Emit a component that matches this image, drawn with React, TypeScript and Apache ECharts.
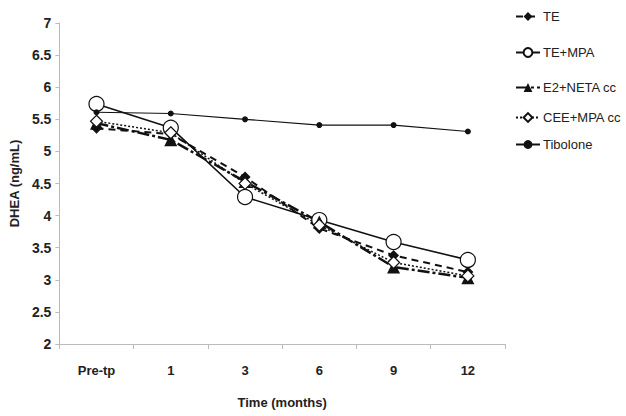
import React, { useEffect, useRef } from "react";
import * as echarts from "echarts";

const categories = ["Pre-tp", "1", "3", "6", "9", "12"];
const teValues = [5.36, 5.27, 4.6, 3.8, 3.38, 3.12];
const teMpaValues = [5.74, 5.37, 4.29, 3.93, 3.59, 3.31];
const e2NetaValues = [5.44, 5.18, 4.53, 3.9, 3.2, 3.03];
const ceeMpaValues = [5.47, 5.29, 4.5, 3.85, 3.27, 3.06];
const tiboloneValues = [5.61, 5.59, 5.5, 5.41, 5.41, 5.31];
const yTicks = { min: 2, max: 7, interval: 0.5 };

const FONT = "'Liberation Sans', Arial, sans-serif";

export default function App() {
  const ref = useRef<HTMLDivElement>(null);
  useEffect(() => {
    if (!ref.current) return;
    const chart = echarts.init(ref.current, undefined, { renderer: "svg" });
    const mk = (name: string, data: number[], lineStyle: any, symbol: string, symbolSize: number, itemStyle: any) => ({
      name,
      type: "line",
      data,
      symbol,
      symbolSize,
      lineStyle: { color: "#111", ...lineStyle },
      itemStyle: { color: "#111", ...itemStyle },
      z: 2,
    });
    const legendTops = [5, 41, 76, 106, 133];
    const names = ["TE", "TE+MPA", "E2+NETA cc", "CEE+MPA cc", "Tibolone"];
    chart.setOption({
      animation: false,
      backgroundColor: "#fff",
      textStyle: { fontFamily: FONT },
      grid: { left: 57, right: 121, top: 23, bottom: 72, containLabel: false },
      legend: names.map((n, i) => ({
        data: [n],
        left: 510,
        top: legendTops[i],
        itemWidth: 24,
        itemHeight: 11,
        itemGap: 4,
        textStyle: { fontFamily: FONT, fontSize: 13, color: "#222", padding: [0, 0, 0, -2] },
        selectedMode: false,
      })),
      xAxis: {
        type: "category",
        data: categories,
        boundaryGap: true,
        name: "Time (months)",
        nameLocation: "middle",
        nameGap: 52,
        nameTextStyle: { fontFamily: FONT, fontWeight: "bold", fontSize: 13, color: "#222" },
        axisLine: { lineStyle: { color: "#bbb", width: 1 } },
        axisTick: { show: true, alignWithLabel: false, length: 5, lineStyle: { color: "#bbb" } },
        axisLabel: { fontFamily: FONT, fontWeight: "bold", fontSize: 13, color: "#222", margin: 20 },
        splitLine: { show: false },
      },
      yAxis: {
        type: "value",
        min: yTicks.min,
        max: yTicks.max,
        interval: yTicks.interval,
        name: "DHEA (ng/mL)",
        nameLocation: "middle",
        nameGap: 38,
        nameRotate: 90,
        nameTextStyle: { fontFamily: FONT, fontWeight: "bold", fontSize: 13, color: "#222" },
        axisLine: { show: true, lineStyle: { color: "#bbb", width: 1 } },
        axisTick: { show: true, length: 4, lineStyle: { color: "#bbb" } },
        axisLabel: { fontFamily: FONT, fontWeight: "bold", fontSize: 14, color: "#222", margin: 8 },
        splitLine: { show: false },
      },
      series: [
        mk("TE", teValues, { type: [7, 5], width: 2 }, "diamond", 11, {}),
        mk("TE+MPA", teMpaValues, { type: "solid", width: 1.6 }, "circle", 15, { color: "#fff", borderColor: "#111", borderWidth: 1.2 }),
        mk("E2+NETA cc", e2NetaValues, { type: [12, 3, 3, 3], width: 2.5 }, "triangle", 13, {}),
        mk("CEE+MPA cc", ceeMpaValues, { type: [2, 2], width: 1.5 }, "diamond", 12, { color: "#fff", borderColor: "#111", borderWidth: 1.2 }),
        mk("Tibolone", tiboloneValues, { type: "solid", width: 1.2 }, "circle", 6, {}),
      ],
    });
    return () => chart.dispose();
  }, []);
  return <div ref={ref} style={{ width: 626, height: 416, position: "absolute", left: 0, top: 0 }} />;
}
